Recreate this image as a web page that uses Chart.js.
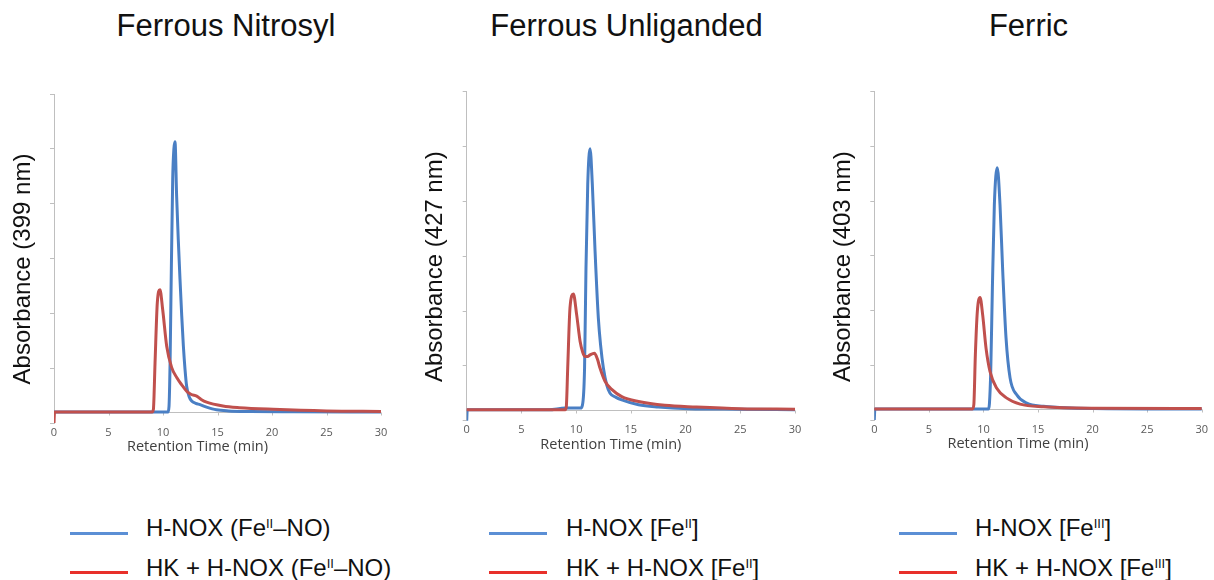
<!DOCTYPE html>
<html>
<head>
<meta charset="utf-8">
<title>H-NOX retention time</title>
<script src="https://cdn.jsdelivr.net/npm/chart.js@4.4.0/dist/chart.umd.min.js"></script>
<style>
  html, body { margin: 0; padding: 0; background: #fff; }
  #page {
    position: relative; width: 1214px; height: 580px; overflow: hidden;
    font-family: 'Liberation Sans', Arial, Helvetica, sans-serif; color: #111;
  }
  #page canvas { position: absolute; }
  .title {
    position: absolute; top: 11px; font-size: 31px; line-height: 30px;
    white-space: nowrap; transform: translateX(-50%);
  }
  .swatch { position: absolute; width: 58px; height: 3px; }
  .legend-text { position: absolute; font-size: 24px; line-height: 24px; white-space: nowrap; }
  .legend-text sup { font-size: 13px; vertical-align: 8px; line-height: 0; }
</style>
</head>
<body>
<div id="page">
  <canvas id="chart-nitrosyl" width="405" height="410"></canvas>
  <canvas id="chart-unliganded" width="402" height="410"></canvas>
  <canvas id="chart-ferric" width="399" height="410"></canvas>
</div>
<script>
const panelTitles = ['Ferrous Nitrosyl', 'Ferrous Unliganded', 'Ferric'];
const yTitles = ['Absorbance (399 nm)', 'Absorbance (427 nm)', 'Absorbance (403 nm)'];
const xTitle = 'Retention Time (min)';
const timeTicks = [0, 5, 10, 15, 20, 25, 30];
const absTicks = [-0.2, 0.8, 1.8, 2.8, 3.8, 4.8, 5.8];

const nitrosylLegend = ['H-NOX (Fe<sup>II</sup>–NO)', 'HK + H-NOX (Fe<sup>II</sup>–NO)'];
const unligandedLegend = ['H-NOX [Fe<sup>II</sup>]', 'HK + H-NOX [Fe<sup>II</sup>]'];
const ferricLegend = ['H-NOX [Fe<sup>III</sup>]', 'HK + H-NOX [Fe<sup>III</sup>]'];

// Ferrous nitrosyl
const nitrosylHnoxTime = [0, 10.3, 10.45, 10.55, 10.65, 10.73, 10.89, 11.0, 11.1, 11.25, 11.4, 11.56, 11.72, 11.87, 12.02, 12.17, 12.4, 12.63, 13.0, 13.4, 14.0, 14.9, 16.0, 18, 22, 30];
const nitrosylHnoxAbs = [0, 0, 0, 0.1, 0.9, 2.1, 4.25, 4.8, 4.93, 3.94, 3.15, 2.42, 1.75, 1.2, 0.78, 0.47, 0.28, 0.2, 0.16, 0.135, 0.09, 0.04, 0.02, 0.01, 0.005, 0];
const nitrosylComplexTime = [0, 0.05, 9.0, 9.12, 9.27, 9.48, 9.72, 9.97, 10.34, 10.8, 11.26, 11.7, 12.17, 12.6, 13.09, 13.5, 14.0, 15.5, 17, 20.1, 25, 30];
const nitrosylComplexAbs = [-0.2, 0, 0, 0.05, 0.9, 2.0, 2.23, 1.87, 1.2, 0.81, 0.63, 0.5, 0.38, 0.32, 0.29, 0.23, 0.18, 0.11, 0.08, 0.05, 0.02, 0.01];

// Ferrous unliganded
const unligandedHnoxTime = [0, 0.05, 7.5, 9.0, 10.4, 10.57, 10.77, 10.9, 11.06, 11.27, 11.48, 11.73, 12.03, 12.25, 12.49, 12.8, 13.1, 13.6, 14.17, 15.7, 17.5, 20.3, 25, 30];
const unligandedHnoxAbs = [-0.2, 0, 0, 0.03, 0.03, 0.08, 0.76, 2.59, 4.11, 4.76, 4.11, 2.89, 1.67, 1.15, 0.76, 0.45, 0.3, 0.23, 0.18, 0.09, 0.05, 0.02, 0.01, 0];
const unligandedComplexTime = [0, 9.0, 9.1, 9.23, 9.44, 9.75, 10.05, 10.36, 10.6, 10.81, 11.05, 11.27, 11.67, 11.95, 12.18, 12.64, 13.25, 14.17, 15.7, 18.1, 21, 25, 30];
const unligandedComplexAbs = [0, 0, 0.05, 0.76, 1.86, 2.11, 1.73, 1.25, 1.05, 0.97, 0.97, 1.0, 1.03, 0.92, 0.76, 0.52, 0.37, 0.24, 0.15, 0.08, 0.05, 0.02, 0.01];

// Ferric
const ferricHnoxTime = [0, 0.05, 10.45, 10.55, 10.67, 10.82, 11.0, 11.27, 11.52, 11.77, 12.07, 12.44, 13.05, 13.97, 15.5, 17, 20, 30];
const ferricHnoxAbs = [-0.2, 0, 0, 0.1, 0.69, 2.21, 3.73, 4.41, 3.73, 2.51, 1.3, 0.57, 0.26, 0.11, 0.05, 0.03, 0.01, 0];
const ferricComplexTime = [0, 9.0, 9.12, 9.26, 9.44, 9.69, 9.93, 10.24, 10.6, 11.22, 12.14, 13.36, 15.5, 20, 30];
const ferricComplexAbs = [0, 0, 0.08, 0.99, 1.78, 2.04, 1.72, 1.11, 0.69, 0.38, 0.2, 0.09, 0.04, 0.015, 0.01];

// --- estilos ---
const HNOX_LINE = '#4a7fc4';
const COMPLEX_LINE = '#c0504d';
const HNOX_SWATCH = '#5b8fd5';
const COMPLEX_SWATCH = '#e8302a';
const AXIS_GRAY = '#bfbfbf';
const FONT = "'Liberation Sans', Arial, Helvetica, sans-serif";

// posiciones de cada panel en la pagina
const frames = [
    { canvas: { left: 0, top: 60, width: 405, height: 410 }, plot: { left: 54, right: 381, top: 94, bottom: 423 },
      titleX: 226, legendLine: 70, legendText: 146 },
    { canvas: { left: 410, top: 60, width: 402, height: 410 }, plot: { left: 466.7, right: 795, top: 91.7, bottom: 420.7 },
      titleX: 626.5, legendLine: 489, legendText: 566 },
    { canvas: { left: 815, top: 60, width: 399, height: 410 }, plot: { left: 874.3, right: 1201.7, top: 91.7, bottom: 420 },
      titleX: 1028.5, legendLine: 899, legendText: 975 }
];
const legendRows = [{ line: 533, text: 515.7 }, { line: 572.7, text: 555.7 }];

const toPoints = (times, values) => times.map((t, i) => ({ x: t, y: values[i] }));
const stripTags = (html) => html.replace(/<[^>]+>/g, '');

// linea base en cero, marcas del eje x y titulos de los ejes
const panelAxes = {
    id: 'panelAxes',
    beforeDatasetsDraw(chart) {
        const { ctx, chartArea, scales } = chart;
        const y0 = Math.round(scales.y.getPixelForValue(0)) + 0.5;
        ctx.save();
        ctx.strokeStyle = AXIS_GRAY;
        ctx.lineWidth = 1;
        ctx.beginPath();
        ctx.moveTo(chartArea.left, y0);
        ctx.lineTo(chartArea.right, y0);
        scales.x.ticks.forEach(tick => {
            if (tick.value === 0) return;
            const x = Math.round(scales.x.getPixelForValue(tick.value)) + 0.5;
            ctx.moveTo(x, y0);
            ctx.lineTo(x, y0 + 3);
        });
        ctx.stroke();
        ctx.restore();
    },
    afterDraw(chart, args, opts) {
        const { ctx, chartArea } = chart;
        ctx.save();
        ctx.fillStyle = '#404040';
        ctx.font = "14.5px 'Open Sans', " + FONT;
        ctx.textAlign = 'center';
        ctx.textBaseline = 'middle';
        ctx.fillText(opts.xTitle, (chartArea.left + chartArea.right) / 2 - 20, chartArea.bottom + 24);

        ctx.fillStyle = '#111';
        ctx.font = '24px ' + FONT;
        ctx.translate(chartArea.left - 31, chartArea.top + 175);
        ctx.rotate(-Math.PI / 2);
        ctx.fillText(opts.yTitle, 0, 0);
        ctx.restore();
    }
};

const buildPanel = (canvasId, frame, yTitle, legend, hnox, complex) => {
    const canvas = document.getElementById(canvasId);
    const c = frame.canvas, p = frame.plot;
    canvas.style.left = c.left + 'px';
    canvas.style.top = c.top + 'px';

    new Chart(canvas, {
        type: 'line',
        data: {
            datasets: [
                { label: stripTags(legend[0]), data: toPoints(hnox[0], hnox[1]), borderColor: HNOX_LINE, order: 1 },
                { label: stripTags(legend[1]), data: toPoints(complex[0], complex[1]), borderColor: COMPLEX_LINE, order: 0 }
            ]
        },
        options: {
            responsive: false,
            animation: false,
            events: [],
            layout: { padding: { top: p.top - c.top, right: c.left + c.width - p.right, left: 0, bottom: 0 } },
            elements: {
                line: { borderWidth: 3, cubicInterpolationMode: 'monotone', borderCapStyle: 'round', borderJoinStyle: 'round', fill: false },
                point: { radius: 0 }
            },
            plugins: {
                legend: { display: false },
                tooltip: { enabled: false },
                panelAxes: { xTitle: xTitle, yTitle: yTitle }
            },
            scales: {
                x: {
                    type: 'linear', min: 0, max: 30,
                    afterBuildTicks: (scale) => { scale.ticks = timeTicks.map(v => ({ value: v })); },
                    afterFit: (scale) => { scale.height = c.top + c.height - p.bottom; },
                    grid: { display: false, drawTicks: false },
                    border: { display: false },
                    ticks: { color: '#595959', padding: 3, maxRotation: 0, font: { family: "'Open Sans', " + FONT, size: 11 } }
                },
                y: {
                    min: absTicks[0], max: absTicks[absTicks.length - 1],
                    afterBuildTicks: (scale) => { scale.ticks = absTicks.map(v => ({ value: v })); },
                    afterFit: (scale) => { scale.width = p.left - c.left; },
                    grid: { drawOnChartArea: false, drawTicks: true, tickLength: 4, color: AXIS_GRAY },
                    border: { display: true, color: AXIS_GRAY },
                    ticks: { display: false }
                }
            }
        },
        plugins: [panelAxes]
    });

    // titulo y leyenda en HTML (superindices)
    const page = document.getElementById('page');
    const title = document.createElement('div');
    title.className = 'title';
    title.style.left = frame.titleX + 'px';
    title.textContent = panelTitles[frames.indexOf(frame)];
    page.appendChild(title);

    [HNOX_SWATCH, COMPLEX_SWATCH].forEach((color, i) => {
        const sw = document.createElement('div');
        sw.className = 'swatch';
        sw.style.background = color;
        sw.style.left = frame.legendLine + 'px';
        sw.style.top = (legendRows[i].line - 1.5) + 'px';
        page.appendChild(sw);

        const txt = document.createElement('div');
        txt.className = 'legend-text';
        txt.style.left = frame.legendText + 'px';
        txt.style.top = legendRows[i].text + 'px';
        txt.innerHTML = legend[i];
        page.appendChild(txt);
    });
};

buildPanel('chart-nitrosyl', frames[0], yTitles[0], nitrosylLegend,
    [nitrosylHnoxTime, nitrosylHnoxAbs], [nitrosylComplexTime, nitrosylComplexAbs]);
buildPanel('chart-unliganded', frames[1], yTitles[1], unligandedLegend,
    [unligandedHnoxTime, unligandedHnoxAbs], [unligandedComplexTime, unligandedComplexAbs]);
buildPanel('chart-ferric', frames[2], yTitles[2], ferricLegend,
    [ferricHnoxTime, ferricHnoxAbs], [ferricComplexTime, ferricComplexAbs]);
</script>
</body>
</html>
